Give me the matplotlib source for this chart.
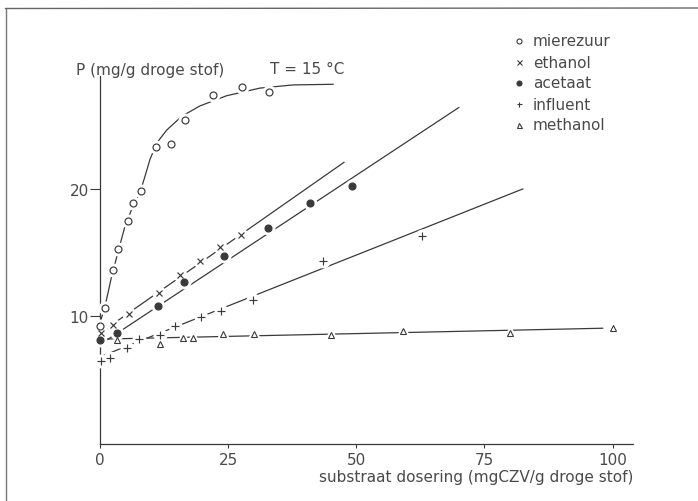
import numpy as np
import matplotlib.pyplot as plt
from matplotlib.lines import Line2D

plt.rcParams['font.family'] = ['DejaVu Sans']

INK = '#3a3a3a'
TXT = '#4a4a4a'

# mierezuur (open circles) + fitted curve
mier_x = [0.0, 0.9, 2.6, 3.6, 5.5, 6.4, 8.0, 10.9, 13.8, 16.6, 22.0, 27.8, 33.0]
mier_y = [9.2, 10.6, 13.6, 15.3, 17.5, 18.9, 19.8, 23.3, 23.5, 25.4, 27.35, 28.0, 27.6]
mier_curve_x = [0.1, 1.0, 2.2, 3.3, 4.9, 6.2, 7.8, 8.8, 9.75, 11.1, 13.0, 16.0, 19.5, 24.7, 31.2, 37.7, 45.6]
mier_curve_y = [9.6, 10.8, 13.0, 14.7, 17.1, 18.4, 19.7, 21.0, 22.3, 23.6, 24.6, 25.7, 26.5, 27.3, 27.9, 28.15, 28.2]

# ethanol (x)
eth_x = [0.1, 2.5, 5.7, 11.6, 15.6, 19.5, 23.4, 27.5]
eth_y = [8.7, 9.3, 10.2, 11.8, 13.2, 14.35, 15.4, 16.4]
eth_fit_x = [0.1, 47.7]
eth_fit_y = [8.7, 22.1]

# acetaat (filled dots)
ace_x = [0.0, 3.3, 11.4, 16.4, 24.2, 32.7, 41.0, 49.1]
ace_y = [8.1, 8.7, 10.8, 12.7, 14.7, 16.9, 18.9, 20.2]
ace_fit_x = [0.5, 70.1]
ace_fit_y = [7.9, 26.4]

# influent (+)
inf_x = [0.1, 1.95, 5.2, 7.7, 11.7, 14.6, 19.8, 23.6, 29.9, 43.6, 62.9]
inf_y = [6.5, 6.7, 7.5, 8.2, 8.5, 9.2, 9.9, 10.4, 11.3, 14.3, 16.3]
inf_fit_x = [0.6, 82.6]
inf_fit_y = [6.9, 20.0]

# methanol (triangles)
meth_x = [3.3, 11.7, 16.1, 18.2, 24.0, 30.0, 45.0, 59.2, 80.0, 100.0]
meth_y = [8.1, 7.85, 8.3, 8.3, 8.6, 8.6, 8.55, 8.85, 8.7, 9.05]
meth_fit_x = [1.0, 98.2]
meth_fit_y = [8.2, 9.05]

legend_labels = ['mierezuur', 'ethanol', 'acetaat', 'influent', 'methanol']
xticks = [0, 25, 50, 75, 100]
yticks = [10, 20]

fig = plt.figure(figsize=(6.98, 5.02), dpi=100)
W, H = 698.0, 502.0
ax = fig.add_axes([100 / W, 1 - 444.5 / H, 533 / W, 367.5 / H])
ax.set_xlim(0, 104)
ax.set_ylim(0, 28.85)

for s in ['top', 'right']:
    ax.spines[s].set_visible(False)
for s in ['left', 'bottom']:
    ax.spines[s].set_color(INK)
    ax.spines[s].set_linewidth(0.9)

ax.set_xticks(xticks)
ax.set_yticks(yticks)
ax.tick_params(axis='x', direction='out', length=3, width=0.8, color=INK,
               labelsize=11, labelcolor=TXT, pad=3)
ax.tick_params(axis='y', direction='out', length=7, width=0.8, color=INK,
               labelsize=11, labelcolor=TXT, pad=1)

# fitted lines
for fx, fy in [(mier_curve_x, mier_curve_y), (eth_fit_x, eth_fit_y),
               (ace_fit_x, ace_fit_y), (inf_fit_x, inf_fit_y),
               (meth_fit_x, meth_fit_y)]:
    ax.plot(fx, fy, color=INK, lw=0.9, zorder=2, solid_capstyle='butt')


def points(x, y, marker, ms, face, halo_marker='o', halo_ms=10, mew=0.85):
    ax.plot(x, y, linestyle='none', marker=halo_marker, ms=halo_ms, color='white',
            mec='white', zorder=3, clip_on=False)
    ax.plot(x, y, linestyle='none', marker=marker, ms=ms, mfc=face, mec=INK,
            mew=mew, zorder=4, clip_on=False)


points(mier_x, mier_y, 'o', 5, 'white', halo_ms=9)
points(eth_x, eth_y, 'x', 5, INK, halo_ms=9)
points(ace_x, ace_y, 'o', 5, INK, halo_ms=9)
points(inf_x, inf_y, '+', 5.5, INK, halo_ms=9)
points(meth_x, meth_y, '^', 5, 'white', halo_marker='^', halo_ms=10, mew=0.8)

# axis texts
fig.text(76 / W, 1 - 70 / H, 'P (mg/g droge stof)', fontsize=11, color=TXT,
         ha='left', va='center')
fig.text(270 / W, 1 - 70 / H, 'T = 15 °C', fontsize=11, color=TXT,
         ha='left', va='center')
fig.text(633 / W, 1 - 478 / H, 'substraat dosering (mgCZV/g droge stof)',
         fontsize=11, color=TXT, ha='right', va='center')

# legend
leg_markers = [('o', 'white'), ('x', INK), ('o', INK), ('+', INK), ('^', 'white')]
for i, (lab, (m, face)) in enumerate(zip(legend_labels, leg_markers)):
    yy = 1 - (42 + 21 * i) / H
    fig.add_artist(Line2D([519 / W], [yy], marker=m, ms=3.6, mfc=face, mec=INK,
                          mew=0.8, linestyle='none'))
    fig.text(533 / W, yy, lab, fontsize=11, color=TXT, ha='left', va='center')

# scan frame
fig.add_artist(Line2D([5.5 / W, 1.0], [1 - 9.5 / H, 1 - 9.0 / H], color='#666666', lw=1.0))
fig.add_artist(Line2D([5.5 / W, 5.5 / W], [1 - 9.5 / H, 0.0], color='#777777', lw=1.0))

fig.savefig('out.png', dpi=100)
